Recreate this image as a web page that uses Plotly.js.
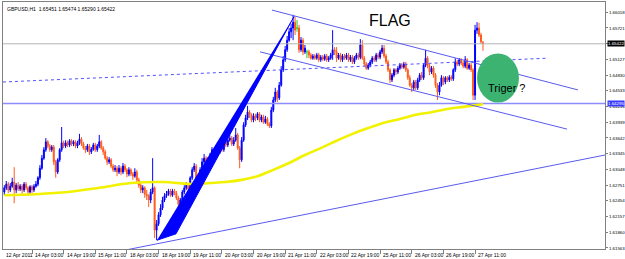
<!DOCTYPE html>
<html><head><meta charset="utf-8">
<script src="https://cdn.plot.ly/plotly-3.0.1.min.js"></script>
<style>html,body{margin:0;padding:0;background:#fff}#chart{width:625px;height:259px}</style>
</head><body><div id="chart"></div>
<script>
// GBPUSD H1 candles (bar index 0 = first visible bar)
const barOpen = [
1.6262,1.6270,1.6277,1.6266,1.6273,1.6281,1.6266,1.6275,1.6268,1.6273,
1.6266,1.6277,1.6270,1.6262,1.6272,1.6266,1.6273,1.6277,1.6289,1.6307,
1.6326,1.6342,1.6357,1.6349,1.6342,1.6347,1.6319,1.6300,1.6323,1.6342,
1.6355,1.6349,1.6355,1.6351,1.6359,1.6353,1.6357,1.6349,1.6355,1.6362,
1.6353,1.6345,1.6342,1.6349,1.6338,1.6343,1.6351,1.6342,1.6349,1.6357,
1.6345,1.6338,1.6326,1.6319,1.6323,1.6311,1.6304,1.6307,1.6300,1.6307,
1.6300,1.6311,1.6304,1.6296,1.6304,1.6296,1.6292,1.6300,1.6285,1.6275,
1.6266,1.6270,1.6258,1.6255,1.6247,1.6262,1.6270,1.6190,1.6202,1.6219,
1.6232,1.6247,1.6255,1.6258,1.6264,1.6256,1.6264,1.6260,1.6251,1.6239,
1.6247,1.6262,1.6270,1.6275,1.6268,1.6289,1.6304,1.6311,1.6275,1.6285,
1.6304,1.6319,1.6326,1.6313,1.6323,1.6330,1.6342,1.6332,1.6345,1.6338,
1.6349,1.6342,1.6357,1.6351,1.6360,1.6364,1.6353,1.6360,1.6370,1.6345,
1.6323,1.6360,1.6389,1.6402,1.6413,1.6408,1.6398,1.6406,1.6402,1.6410,
1.6398,1.6404,1.6394,1.6400,1.6391,1.6387,1.6417,1.6436,1.6451,1.6440,
1.6464,1.6493,1.6512,1.6531,1.6549,1.6565,1.6572,1.6583,1.6572,1.6572,
1.6531,1.6549,1.6527,1.6527,1.6527,1.6521,1.6515,1.6519,1.6515,1.6521,
1.6512,1.6517,1.6513,1.6519,1.6512,1.6515,1.6521,1.6531,1.6527,1.6515,
1.6521,1.6512,1.6519,1.6515,1.6521,1.6512,1.6517,1.6508,1.6515,1.6521,
1.6517,1.6540,1.6515,1.6504,1.6496,1.6502,1.6508,1.6515,1.6512,1.6521,
1.6517,1.6527,1.6534,1.6519,1.6508,1.6493,1.6474,1.6483,1.6493,1.6489,
1.6496,1.6502,1.6498,1.6504,1.6493,1.6478,1.6464,1.6459,1.6470,1.6459,
1.6474,1.6483,1.6478,1.6502,1.6515,1.6500,1.6489,1.6496,1.6483,1.6464,
1.6451,1.6464,1.6478,1.6470,1.6478,1.6474,1.6479,1.6476,1.6493,1.6508,
1.6504,1.6512,1.6506,1.6500,1.6512,1.6496,1.6502,1.6493,1.6445,1.6568,
1.6572,1.6559,1.65451];
const barHigh = [
1.6275,1.6283,1.6281,1.6279,1.6289,1.6309,1.6279,1.6281,1.6277,1.6277,
1.6281,1.6281,1.6273,1.6275,1.6275,1.6277,1.6283,1.6292,1.6313,1.6332,
1.6347,1.6364,1.6360,1.6353,1.6351,1.6351,1.6323,1.6326,1.6345,1.6385,
1.6359,1.6360,1.6359,1.6362,1.6362,1.6360,1.6360,1.6359,1.6372,1.6366,
1.6357,1.6349,1.6353,1.6353,1.6347,1.6355,1.6355,1.6353,1.6370,1.6360,
1.6349,1.6342,1.6330,1.6328,1.6326,1.6315,1.6313,1.6311,1.6313,1.6311,
1.6317,1.6315,1.6307,1.6309,1.6307,1.6300,1.6307,1.6304,1.6289,1.6279,
1.6275,1.6273,1.6266,1.6258,1.6268,1.6326,1.6273,1.6209,1.6224,1.6239,
1.6253,1.6260,1.6264,1.6268,1.6268,1.6268,1.6268,1.6264,1.6255,1.6251,
1.6266,1.6275,1.6281,1.6279,1.6292,1.6309,1.6317,1.6315,1.6290,1.6309,
1.6326,1.6334,1.6330,1.6328,1.6336,1.6347,1.6345,1.6351,1.6349,1.6355,
1.6353,1.6360,1.6360,1.6366,1.6370,1.6368,1.6366,1.6383,1.6374,1.6349,
1.6366,1.6394,1.6408,1.6425,1.6417,1.6411,1.6411,1.6410,1.6413,1.6413,
1.6408,1.6408,1.6406,1.6404,1.6394,1.6423,1.6442,1.6459,1.6455,1.6470,
1.6500,1.6519,1.6538,1.6557,1.6572,1.6580,1.6597,1.6593,1.6587,1.6578,
1.6555,1.6553,1.6540,1.6531,1.6531,1.6525,1.6523,1.6523,1.6525,1.6525,
1.6521,1.6521,1.6523,1.6523,1.6519,1.6525,1.6568,1.6536,1.6536,1.6525,
1.6525,1.6523,1.6523,1.6525,1.6525,1.6521,1.6521,1.6519,1.6525,1.6525,
1.6551,1.6549,1.6519,1.6508,1.6506,1.6512,1.6519,1.6519,1.6525,1.6525,
1.6531,1.6540,1.6540,1.6523,1.6512,1.6496,1.6487,1.6496,1.6496,1.6500,
1.6506,1.6506,1.6508,1.6508,1.6496,1.6483,1.6468,1.6474,1.6474,1.6478,
1.6487,1.6489,1.6506,1.6531,1.6519,1.6504,1.6500,1.6500,1.6487,1.6468,
1.6470,1.6483,1.6481,1.6481,1.6481,1.6483,1.6483,1.6496,1.6515,1.6512,
1.6515,1.6515,1.6510,1.6519,1.6515,1.6506,1.6506,1.6496,1.6578,1.6583,
1.6582,1.6563,1.65474];
const barLow = [
1.6256,1.6266,1.6260,1.6262,1.6270,1.6241,1.6260,1.6264,1.6264,1.6258,
1.6262,1.6266,1.6255,1.6258,1.6260,1.6262,1.6270,1.6273,1.6285,1.6304,
1.6323,1.6338,1.6345,1.6338,1.6338,1.6313,1.6289,1.6296,1.6319,1.6338,
1.6345,1.6345,1.6347,1.6347,1.6349,1.6349,1.6345,1.6345,1.6351,1.6349,
1.6342,1.6336,1.6338,1.6332,1.6334,1.6340,1.6338,1.6338,1.6345,1.6342,
1.6332,1.6323,1.6313,1.6315,1.6307,1.6300,1.6300,1.6292,1.6296,1.6294,
1.6296,1.6300,1.6290,1.6292,1.6292,1.6285,1.6289,1.6281,1.6270,1.6260,
1.6260,1.6251,1.6247,1.6234,1.6241,1.6258,1.6175,1.6171,1.6198,1.6215,
1.6228,1.6243,1.6251,1.6255,1.6253,1.6253,1.6256,1.6247,1.6232,1.6236,
1.6243,1.6258,1.6266,1.6264,1.6264,1.6285,1.6300,1.6260,1.6272,1.6281,
1.6300,1.6315,1.6307,1.6309,1.6319,1.6326,1.6328,1.6328,1.6332,1.6334,
1.6338,1.6338,1.6347,1.6347,1.6357,1.6349,1.6349,1.6357,1.6342,1.6307,
1.6319,1.6357,1.6385,1.6398,1.6402,1.6394,1.6394,1.6396,1.6398,1.6394,
1.6394,1.6391,1.6391,1.6387,1.6383,1.6383,1.6413,1.6432,1.6432,1.6436,
1.6461,1.6489,1.6508,1.6527,1.6546,1.6553,1.6549,1.6559,1.6565,1.6525,
1.6527,1.6521,1.6523,1.6515,1.6515,1.6512,1.6512,1.6512,1.6512,1.6508,
1.6508,1.6510,1.6510,1.6508,1.6508,1.6512,1.6512,1.6521,1.6508,1.6512,
1.6508,1.6508,1.6512,1.6512,1.6508,1.6508,1.6504,1.6504,1.6512,1.6512,
1.6513,1.6512,1.6500,1.6493,1.6493,1.6498,1.6504,1.6508,1.6508,1.6513,
1.6513,1.6523,1.6515,1.6504,1.6489,1.6468,1.6470,1.6479,1.6483,1.6485,
1.6493,1.6495,1.6495,1.6489,1.6474,1.6461,1.6451,1.6455,1.6455,1.6455,
1.6470,1.6474,1.6474,1.6498,1.6496,1.6483,1.6485,1.6478,1.6459,1.6436,
1.6445,1.6461,1.6464,1.6466,1.6470,1.6470,1.6472,1.6472,1.6489,1.6500,
1.6500,1.6502,1.6496,1.6496,1.6493,1.6493,1.6489,1.6436,1.6436,1.6561,
1.6555,1.6542,1.65290];
const barClose = [
1.6270,1.6277,1.6266,1.6273,1.6281,1.6266,1.6275,1.6268,1.6273,1.6266,
1.6277,1.6270,1.6262,1.6272,1.6266,1.6273,1.6277,1.6289,1.6307,1.6326,
1.6342,1.6357,1.6349,1.6342,1.6347,1.6319,1.6300,1.6323,1.6342,1.6355,
1.6349,1.6355,1.6351,1.6359,1.6353,1.6357,1.6349,1.6355,1.6362,1.6353,
1.6345,1.6342,1.6349,1.6338,1.6343,1.6351,1.6342,1.6349,1.6357,1.6345,
1.6338,1.6326,1.6319,1.6323,1.6311,1.6304,1.6307,1.6300,1.6307,1.6300,
1.6311,1.6304,1.6296,1.6304,1.6296,1.6292,1.6300,1.6285,1.6275,1.6266,
1.6270,1.6258,1.6255,1.6247,1.6262,1.6270,1.6190,1.6202,1.6219,1.6232,
1.6247,1.6255,1.6258,1.6264,1.6256,1.6264,1.6260,1.6251,1.6239,1.6247,
1.6262,1.6270,1.6275,1.6268,1.6289,1.6304,1.6311,1.6275,1.6285,1.6304,
1.6319,1.6326,1.6313,1.6323,1.6330,1.6342,1.6332,1.6345,1.6338,1.6349,
1.6342,1.6357,1.6351,1.6360,1.6364,1.6353,1.6360,1.6370,1.6345,1.6323,
1.6360,1.6389,1.6402,1.6413,1.6408,1.6398,1.6406,1.6402,1.6410,1.6398,
1.6404,1.6394,1.6400,1.6391,1.6387,1.6417,1.6436,1.6451,1.6440,1.6464,
1.6493,1.6512,1.6531,1.6549,1.6565,1.6572,1.6583,1.6568,1.6572,1.6531,
1.6549,1.6527,1.6534,1.6527,1.6521,1.6515,1.6519,1.6515,1.6521,1.6512,
1.6517,1.6513,1.6519,1.6512,1.6515,1.6521,1.6531,1.6527,1.6515,1.6521,
1.6512,1.6519,1.6515,1.6521,1.6512,1.6517,1.6508,1.6515,1.6521,1.6517,
1.6540,1.6515,1.6504,1.6496,1.6502,1.6508,1.6515,1.6512,1.6521,1.6517,
1.6527,1.6534,1.6519,1.6508,1.6493,1.6474,1.6483,1.6493,1.6489,1.6496,
1.6502,1.6498,1.6504,1.6493,1.6478,1.6464,1.6459,1.6470,1.6459,1.6474,
1.6483,1.6478,1.6502,1.6515,1.6500,1.6489,1.6496,1.6483,1.6464,1.6451,
1.6464,1.6478,1.6470,1.6478,1.6474,1.6479,1.6476,1.6493,1.6508,1.6504,
1.6512,1.6506,1.6500,1.6512,1.6496,1.6502,1.6493,1.6445,1.6568,1.6572,
1.6559,1.6546,1.65422];

// moving average (yellow), sampled at bar indices
const maBars   = [0,16,32,48,64,80,96,104,112,120,128,136,144,152,160,168,176,184,192,200,208,216,224,232,242];
const maValues = [1.6256,1.6258,1.6262,1.6270,1.6279,1.6281,1.6277,1.6279,1.6281,1.6285,1.6292,1.6304,1.6317,1.6332,1.6345,1.6359,1.6372,1.6383,1.6393,1.6400,1.6408,1.6413,1.6419,1.6423,1.6428];

// drawn objects (bar index, price)
const flagUpperBars = [135.3, 290.0], flagUpperPrices = [1.6606, 1.6455];
const flagLowerBars = [129.3, 284.5], flagLowerPrices = [1.6527, 1.6381];
const supportBars = [62.0, 303.7], supportPrices = [1.6153, 1.6332];
const dottedBars = [-0.66, 274.4], dottedPrices = [1.6470, 1.6515];
const poleBars = [77.2, 86.8, 146.5], polePrices = [1.6171, 1.6183, 1.6594];
const levelPrice = 1.64295;
const bidPrice = 1.65422;
const triggerCircle = {bars:[239.0, 260.2], prices:[1.64313, 1.65239]};

// axis labels
const xTickBars = [14,30,46,62,78,94,110,126,142,158,174,190,206,222,238];
const xTickText = ["14 Apr 03:00","14 Apr 19:00","15 Apr 11:00","18 Apr 03:00","18 Apr 19:00","19 Apr 11:00","20 Apr 03:00","20 Apr 19:00","21 Apr 11:00","22 Apr 03:00","22 Apr 19:00","25 Apr 11:00","26 Apr 03:00","26 Apr 19:00","27 Apr 11:00"];
const firstDateLabel = "12 Apr 2011";
const yTickValues = [1.66018,1.65721,1.65424,1.65127,1.64830,1.64533,1.64236,1.63939,1.63642,1.63345,1.63048,1.62751,1.62454,1.62157,1.61860,1.61563];
const headerText = "GBPUSD,H1  1.65451 1.65474 1.65290 1.65422";

const idx = barClose.map((_, i) => i);
const isDoji = idx.map(i => barOpen[i] === barClose[i]);
const pick = (arr, keep) => arr.map((v, i) => keep(i) ? v : null);

const UP = '#0000FF', DOWN = '#FF5A1E', DOJI = '#22CC22', LINE = '#5A5AF0';
const FAM = 'Liberation Sans, Arial, sans-serif';
const tf = {family:FAM, size:5, color:'#000'};
const yf = {family:FAM, size:4.4, color:'#000'};

const traces = [
  {type:'scatter', mode:'lines', x:[-0.66, 303.7], y:[bidPrice, bidPrice], line:{color:'#B4B4B4', width:1}, hoverinfo:'skip'},
  {type:'scatter', mode:'lines', x:[-0.66, 303.7], y:[levelPrice, levelPrice], line:{color:'#8C8CFF', width:1.6}, hoverinfo:'skip'},
  {type:'scatter', mode:'lines', x:dottedBars, y:dottedPrices, line:{color:'#5050FF', width:1, dash:'dot'}, hoverinfo:'skip'},
  {type:'scatter', mode:'lines', x:maBars, y:maValues, line:{color:'#F2F200', width:2.6, shape:'spline'}, hoverinfo:'skip'},
  {type:'scatter', mode:'lines', x:supportBars, y:supportPrices, line:{color:LINE, width:1}, hoverinfo:'skip'},
  {type:'scatter', mode:'lines', x:flagUpperBars, y:flagUpperPrices, line:{color:LINE, width:1}, hoverinfo:'skip'},
  {type:'scatter', mode:'lines', x:flagLowerBars, y:flagLowerPrices, line:{color:LINE, width:1}, hoverinfo:'skip'},
  {type:'scatter', mode:'lines', x:poleBars, y:polePrices, fill:'toself', fillcolor:'#0000FF', line:{color:'#0000FF', width:1}, hoverinfo:'skip'},
  {type:'candlestick', x:idx,
    open:pick(barOpen, i=>!isDoji[i]), high:pick(barHigh, i=>!isDoji[i]),
    low:pick(barLow, i=>!isDoji[i]), close:pick(barClose, i=>!isDoji[i]),
    increasing:{line:{color:UP, width:1}, fillcolor:UP},
    decreasing:{line:{color:DOWN, width:1}, fillcolor:DOWN},
    whiskerwidth:0, hoverinfo:'skip'},
  {type:'candlestick', x:idx,
    open:pick(barOpen, i=>isDoji[i]), high:pick(barHigh, i=>isDoji[i]),
    low:pick(barLow, i=>isDoji[i]), close:pick(barClose, i=>isDoji[i]),
    increasing:{line:{color:DOJI, width:1}, fillcolor:DOJI},
    decreasing:{line:{color:DOJI, width:1}, fillcolor:DOJI},
    whiskerwidth:0, hoverinfo:'skip'}
];

// x labels drawn left-aligned at their tick, as in the terminal
const xLabelAnn = xTickBars.map((b, k) => ({xref:'x', yref:'paper', x:b, y:0, xanchor:'left', yanchor:'top',
  xshift:1, yshift:-1, text:xTickText[k], showarrow:false, font:tf}));

const layout = {
  width:625, height:259,
  margin:{l:3, r:20, t:2, b:10},
  paper_bgcolor:'#FFFFFF', plot_bgcolor:'#FFFFFF',
  showlegend:false,
  xaxis:{range:[-0.66, 303.7], showgrid:false, zeroline:false, showline:true, mirror:true,
    linecolor:'#808080', linewidth:1, tickmode:'array', tickvals:xTickBars, showticklabels:false,
    ticks:'outside', ticklen:4, tickcolor:'#808080', rangeslider:{visible:false}, fixedrange:true},
  yaxis:{side:'right', range:[1.615439, 1.662122], showgrid:false, zeroline:false, showline:true, mirror:true,
    linecolor:'#808080', linewidth:1, tickmode:'array', tickvals:yTickValues,
    ticktext:yTickValues.map(v => Math.abs(v - bidPrice) < 0.0001 ? '' : v.toFixed(5)),
    ticks:'outside', ticklen:2, tickcolor:'#808080', tickfont:yf, ticklabelstandoff:0, fixedrange:true},
  shapes:[
    {type:'circle', xref:'x', yref:'y', x0:triggerCircle.bars[0], x1:triggerCircle.bars[1],
     y0:triggerCircle.prices[0], y1:triggerCircle.prices[1], fillcolor:'#3CB371', line:{width:0}, layer:'above'}
  ],
  annotations:[
    {xref:'paper', yref:'paper', x:0, y:1, xanchor:'left', yanchor:'top', xshift:2, yshift:-2,
     text:headerText, showarrow:false, font:tf},
    {xref:'x', yref:'paper', x:-0.66, y:0, xanchor:'left', yanchor:'top', yshift:-1, xshift:1,
     text:firstDateLabel, showarrow:false, font:tf},
    ...xLabelAnn,
    {xref:'paper', yref:'y', x:1, y:bidPrice, xanchor:'left', yanchor:'middle', xshift:2,
     text:bidPrice.toFixed(5), showarrow:false, bgcolor:'#000000', borderpad:0, font:{family:FAM, size:4.4, color:'#FFFFFF'}},
    {xref:'paper', yref:'y', x:1, y:levelPrice, xanchor:'left', yanchor:'middle', xshift:2,
     text:levelPrice.toFixed(5), showarrow:false, bgcolor:'#3A3AFF', borderpad:0, font:{family:FAM, size:4.4, color:'#FFFFFF'}},
    {xref:'x', yref:'y', x:195.0, y:1.6587, xanchor:'center', yanchor:'middle',
     text:'FLAG', showarrow:false, font:{family:FAM, size:16, color:'#000'}},
    {xref:'x', yref:'y', x:243.5, y:1.6459, xanchor:'left', yanchor:'middle',
     text:'Triger ?', showarrow:false, font:{family:FAM, size:11, color:'#000'}}
  ]
};

Plotly.newPlot('chart', traces, layout, {staticPlot:true, displayModeBar:false});
</script>
</body></html>
